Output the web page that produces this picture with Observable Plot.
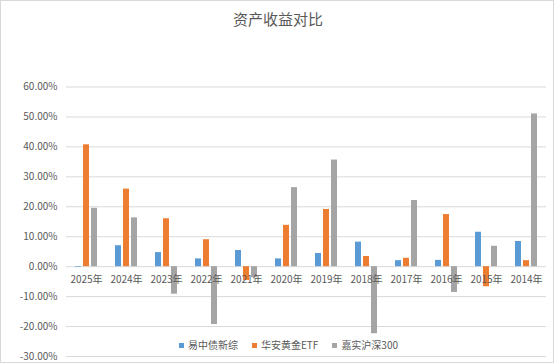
<!DOCTYPE html>
<html>
<head>
<meta charset="utf-8">
<script src="https://cdn.jsdelivr.net/npm/d3@7"></script>
<script src="https://cdn.jsdelivr.net/npm/@observablehq/plot@0.6"></script>
<style>
  html, body { margin: 0; padding: 0; background: #fff; }
  body { width: 556px; height: 364px; position: relative; overflow: hidden;
         font-family: "Noto Sans CJK SC", "Noto Sans", sans-serif; color: #595959; }
  #frame { position: absolute; left: 0; top: 0; width: 554px; height: 363px;
           box-sizing: border-box; border: 1px solid #d9d9d9; pointer-events: none; }
  #title { position: absolute; left: 0; top: 8px; width: 556px; text-align: center;
           font-size: 15px; line-height: 22px; color: #595959; }
  #chart { position: absolute; left: 0; top: 40px; }
  #legend { position: absolute; left: 8px; top: 337px; width: 561px; display: flex;
            justify-content: center; gap: 14px; font-size: 10px; line-height: 16px; color: #595959; }
  .item { display: flex; align-items: center; gap: 4px; }
  .sw { width: 5px; height: 5px; display: inline-block; }
</style>
</head>
<body>
<div id="title">资产收益对比</div>
<div id="chart"></div>
<div id="legend"></div>
<div id="frame"></div>
<script>
const years = ["2025年","2024年","2023年","2022年","2021年","2020年","2019年","2018年","2017年","2016年","2015年","2014年"];
const series = ["易中债新综","华安黄金ETF","嘉实沪深300"];
const colors = ["#5b9bd5","#ed7d31","#a5a5a5"];
const bond  = [-0.002, 0.070, 0.047, 0.026, 0.054, 0.026, 0.044, 0.082, 0.020, 0.021, 0.115, 0.084];
const gold  = [0.407, 0.259, 0.160, 0.090, -0.046, 0.138, 0.191, 0.034, 0.028, 0.174, -0.067, 0.020];
const hs300 = [0.195, 0.163, -0.092, -0.193, -0.037, 0.264, 0.356, -0.224, 0.221, -0.086, 0.068, 0.510];
const yTicks = [-0.3, -0.2, -0.1, 0, 0.1, 0.2, 0.3, 0.4, 0.5, 0.6];

const valuesBySeries = [bond, gold, hs300];
const data = [];
years.forEach((y, i) => series.forEach((s, j) => data.push({year: y, series: s, value: valuesBySeries[j][i]})));

const fmt = d => (d * 100).toFixed(2) + "%";

const chart = Plot.plot({
  width: 556,
  height: 324,
  marginTop: 46.5,
  marginBottom: 8,
  marginLeft: 65,
  marginRight: 8.5,
  style: {fontFamily: "'Noto Sans CJK SC', 'Noto Sans', sans-serif", fontSize: "10px", color: "#595959", background: "transparent"},
  fx: {domain: years, padding: 0, axis: null},
  x: {domain: series, axis: null, paddingInner: 0.22, paddingOuter: 0.85},
  y: {domain: [-0.3, 0.6], axis: null},
  color: {domain: series, range: colors},
  marks: [
    Plot.gridY(yTicks, {stroke: "#d9d9d9", strokeOpacity: 1, strokeWidth: 1}),
    Plot.axisY(yTicks, {tickSize: 0, tickPadding: 9, tickFormat: fmt, fill: "#595959", fontSize: 10, label: null}),
    Plot.barY(data, {fx: "year", x: "series", y: "value", fill: "series"}),
    Plot.text(years, {fx: d => d, text: d => d, y: 0, dy: 13, fill: "#595959", fontSize: 10})
  ]
});
document.getElementById("chart").appendChild(chart);

const legend = document.getElementById("legend");
series.forEach((s, i) => {
  const item = document.createElement("span");
  item.className = "item";
  const sw = document.createElement("span");
  sw.className = "sw";
  sw.style.background = colors[i];
  const t = document.createElement("span");
  t.textContent = s;
  item.appendChild(sw);
  item.appendChild(t);
  legend.appendChild(item);
});
</script>
</body>
</html>
